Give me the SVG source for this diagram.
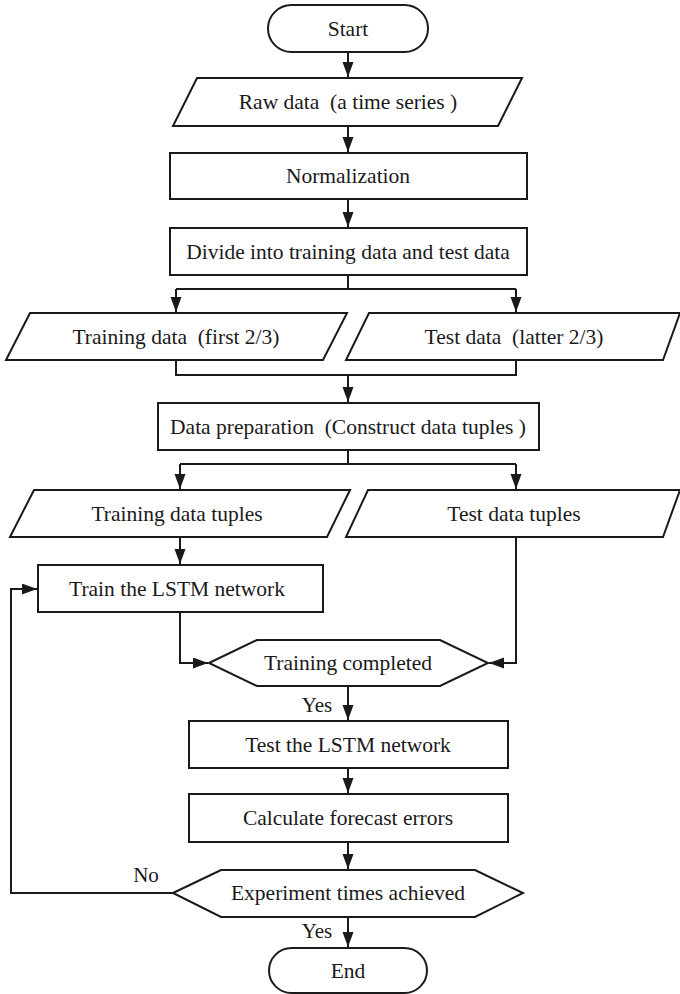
<svg xmlns="http://www.w3.org/2000/svg" width="680" height="994" viewBox="0 0 680 994">
  <style>
    .shape { fill: #ffffff; stroke: #1a1a1a; stroke-width: 2; }
    .link { fill: none; stroke: #1a1a1a; stroke-width: 2; }
    text { font-family: 'Liberation Serif', Tinos, 'Times New Roman', Times, 'DejaVu Serif', serif; fill: #1a1a1a; text-anchor: middle; }
    .label { font-size: 21.5px; }
    .tag { font-size: 21px; }
  </style>
  <defs>
    <marker id="arrow" markerUnits="userSpaceOnUse" markerWidth="16" markerHeight="12" refX="15" refY="5.5" orient="auto">
      <path d="M0,0 L15,5.5 L0,11 Z" fill="#1a1a1a"/>
    </marker>
  </defs>
  <rect width="680" height="994" fill="#ffffff"/>

  <!-- connectors -->
  <g id="connectors">
    <path class="link" d="M348,52 V77" marker-end="url(#arrow)"/>
    <path class="link" d="M348,126 V152" marker-end="url(#arrow)"/>
    <path class="link" d="M348,199 V227" marker-end="url(#arrow)"/>
    <path class="link" d="M348,275 V289 M176,289 H516"/>
    <path class="link" d="M176,289 V312" marker-end="url(#arrow)"/>
    <path class="link" d="M516,289 V312" marker-end="url(#arrow)"/>
    <path class="link" d="M176,360 V375 H516 V360"/>
    <path class="link" d="M348,375 V402" marker-end="url(#arrow)"/>
    <path class="link" d="M348,450 V464 M180,464 H516"/>
    <path class="link" d="M180,464 V489" marker-end="url(#arrow)"/>
    <path class="link" d="M516,464 V489" marker-end="url(#arrow)"/>
    <path class="link" d="M180,537 V564" marker-end="url(#arrow)"/>
    <path class="link" d="M180,612 V663 H208" marker-end="url(#arrow)"/>
    <path class="link" d="M516,537 V663 H489" marker-end="url(#arrow)"/>
    <path class="link" d="M348,686 V720" marker-end="url(#arrow)"/>
    <path class="link" d="M348,768 V793" marker-end="url(#arrow)"/>
    <path class="link" d="M348,842 V869" marker-end="url(#arrow)"/>
    <path class="link" d="M173,893 H11 V589 H37" marker-end="url(#arrow)"/>
    <path class="link" d="M348,917 V947" marker-end="url(#arrow)"/>
    <text class="tag" x="317" y="712">Yes</text>
    <text class="tag" x="146" y="882">No</text>
    <text class="tag" x="317" y="938">Yes</text>
  </g>

  <g id="start">
    <rect class="shape" x="268" y="5" width="160" height="47" rx="23.5"/>
    <text class="label" x="348" y="36">Start</text>
  </g>
  <g id="raw-data">
    <polygon class="shape" points="197,78 522,78 498,126 173,126"/>
    <text class="label" x="348" y="109" xml:space="preserve">Raw data  (a time series )</text>
  </g>
  <g id="normalization">
    <rect class="shape" x="170" y="153" width="357" height="46"/>
    <text class="label" x="348" y="183">Normalization</text>
  </g>
  <g id="divide">
    <rect class="shape" x="170" y="228" width="357" height="47"/>
    <text class="label" x="348" y="259">Divide into training data and test data</text>
  </g>
  <g id="training-data">
    <polygon class="shape" points="30,313 347,313 323,360 6,360"/>
    <text class="label" x="176" y="344" xml:space="preserve">Training data  (first 2/3)</text>
  </g>
  <g id="test-data">
    <polygon class="shape" points="369,313 680,313 663,360 346,360"/>
    <text class="label" x="514" y="344" xml:space="preserve">Test data  (latter 2/3)</text>
  </g>
  <g id="data-preparation">
    <rect class="shape" x="158" y="403" width="381" height="47"/>
    <text class="label" x="348" y="434" xml:space="preserve">Data preparation  (Construct data tuples )</text>
  </g>
  <g id="training-tuples">
    <polygon class="shape" points="34,490 350,490 327,537 10,537"/>
    <text class="label" x="177" y="521">Training data tuples</text>
  </g>
  <g id="test-tuples">
    <polygon class="shape" points="368,490 680,490 663,537 346,537"/>
    <text class="label" x="514" y="521">Test data tuples</text>
  </g>
  <g id="train-lstm">
    <rect class="shape" x="38" y="565" width="285" height="47"/>
    <text class="label" x="177" y="596">Train the LSTM network</text>
  </g>
  <g id="training-completed">
    <polygon class="shape" points="209,663 257,640 440,640 488,663 440,686 257,686"/>
    <text class="label" x="348" y="670">Training completed</text>
  </g>
  <g id="test-lstm">
    <rect class="shape" x="189" y="721" width="319" height="47"/>
    <text class="label" x="348" y="752">Test the LSTM network</text>
  </g>
  <g id="forecast-errors">
    <rect class="shape" x="189" y="794" width="319" height="48"/>
    <text class="label" x="348" y="825">Calculate forecast errors</text>
  </g>
  <g id="experiment-times">
    <polygon class="shape" points="173,893 221,870 475,870 523,893 475,917 221,917"/>
    <text class="label" x="348" y="900">Experiment times achieved</text>
  </g>
  <g id="end">
    <rect class="shape" x="269" y="948" width="158" height="45" rx="22.5"/>
    <text class="label" x="348" y="978">End</text>
  </g>
</svg>
